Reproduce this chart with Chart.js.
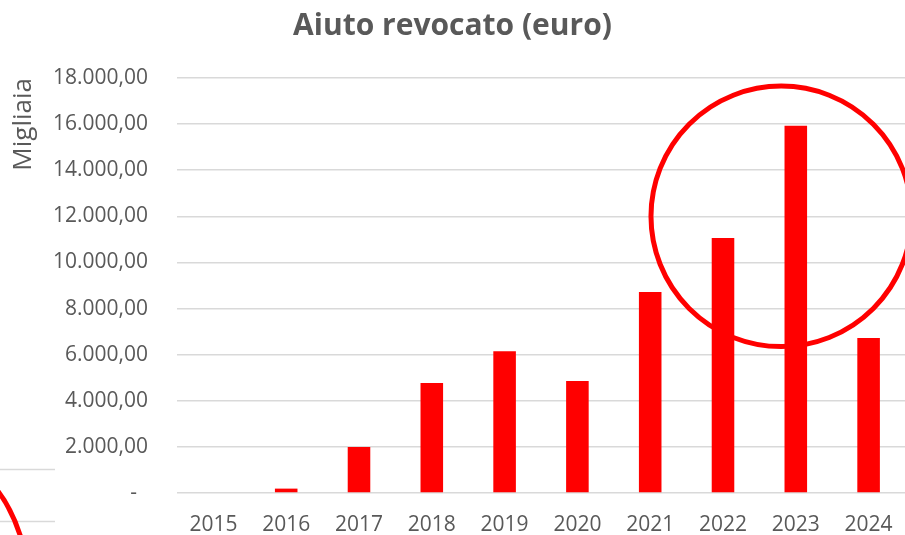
<!DOCTYPE html>
<html>
<head>
<meta charset="utf-8">
<script src="https://cdn.jsdelivr.net/npm/chart.js@4/dist/chart.umd.min.js"></script>
<style>
  html, body { margin: 0; padding: 0; background: #fff; }
  #wrap { position: relative; width: 905px; height: 535px; overflow: hidden; }
  #chart { position: absolute; left: 0; top: 0; }
  /* frammento del grafico vicino, tagliato nel ritaglio */
  #frag { position: absolute; left: 0; top: 0; pointer-events: none; }
</style>
</head>
<body>
<div id="wrap">
  <canvas id="chart" width="905" height="535"></canvas>
  <svg id="frag" width="905" height="535">
    <line x1="0" y1="469.5" x2="55" y2="469.5" stroke="#d9d9d9" stroke-width="1.5"/>
    <line x1="0" y1="521.5" x2="55" y2="521.5" stroke="#d9d9d9" stroke-width="1.5"/>
    <path d="M -3 490 Q 12 509 21 538" fill="none" stroke="#ff0000" stroke-width="5"/>
  </svg>
</div>
<script>
(function () {

    // ── Dati ──────────────────────────────────────────────────────────────────
    var anni    = ['2015', '2016', '2017', '2018', '2019', '2020', '2021', '2022', '2023', '2024'];
    var revocato = [0, 190, 1990, 4770, 6150, 4860, 8720, 11060, 15930, 6720];   // migliaia di euro

    var yMin  = 0;
    var yMax  = 18000;
    var yStep = 2000;

    // cerchio rosso di evidenziazione (in coordinate dei dati)
    var cerchioX      = 7.8;
    var cerchioY      = 12000;
    var cerchioRaggio = 5650;

    var grigio = '#595959';
    var rosso  = '#ff0000';

    // ── Formato numeri all'italiana ───────────────────────────────────────────
    function formatIt(v) {
        if (v === 0) return '-  ';
        var s = v.toFixed(2).split('.');
        return s[0].replace(/\B(?=(\d{3})+(?!\d))/g, '.') + ',' + s[1];
    }

    // ── Plugin: cerchio attorno al 2022-2023 ──────────────────────────────────
    var cerchio = {
        id: 'cerchio',
        afterDatasetsDraw: function (chart) {
            var x = chart.scales.x, y = chart.scales.y;
            var cx = x.getPixelForValue(cerchioX);
            var cy = y.getPixelForValue(cerchioY);
            var r  = y.getPixelForValue(cerchioY - cerchioRaggio) - cy;
            var ctx = chart.ctx;
            ctx.save();
            ctx.beginPath();
            ctx.arc(cx, cy, r, 0, Math.PI * 2);
            ctx.strokeStyle = rosso;
            ctx.lineWidth = 5;
            ctx.stroke();
            ctx.restore();
        }
    };

    var ctx = document.getElementById('chart').getContext('2d');
    new Chart(ctx, {
        type: 'bar',
        data: {
            labels: anni,
            datasets: [{
                data: revocato,
                backgroundColor: rosso,
                borderWidth: 0,
                categoryPercentage: 1,
                barPercentage: 0.31
            }]
        },
        options: {
            responsive: false,
            animation: false,
            layout: { padding: 0 },
            plugins: {
                legend: { display: false },
                tooltip: { enabled: false },
                title: {
                    display: true,
                    text: 'Aiuto revocato (euro)',
                    color: grigio,
                    font: { family: 'Open Sans', size: 30, weight: 'bold' },
                    padding: { top: 8, bottom: 34 }
                }
            },
            scales: {
                x: {
                    grid: { display: false },
                    border: { display: false },
                    ticks: {
                        color: grigio,
                        font: { family: 'Open Sans', size: 21 },
                        padding: 11,
                        maxRotation: 0
                    },
                    afterFit: function (s) { s.height = 42; }
                },
                y: {
                    min: yMin,
                    max: yMax,
                    grid: { color: '#d9d9d9', lineWidth: 1.5, drawTicks: false },
                    border: { display: false },
                    ticks: {
                        stepSize: yStep,
                        color: grigio,
                        font: { family: 'Open Sans', size: 21 },
                        padding: 29,
                        callback: function (v) { return formatIt(v); }
                    },
                    title: {
                        display: true,
                        text: 'Migliaia',
                        align: 'end',
                        color: grigio,
                        font: { family: 'Open Sans', size: 26 },
                        padding: { top: 8, bottom: 0 }
                    },
                    afterFit: function (s) { s.width = 177; }
                }
            }
        },
        plugins: [cerchio]
    });

})();
</script>
</body>
</html>
